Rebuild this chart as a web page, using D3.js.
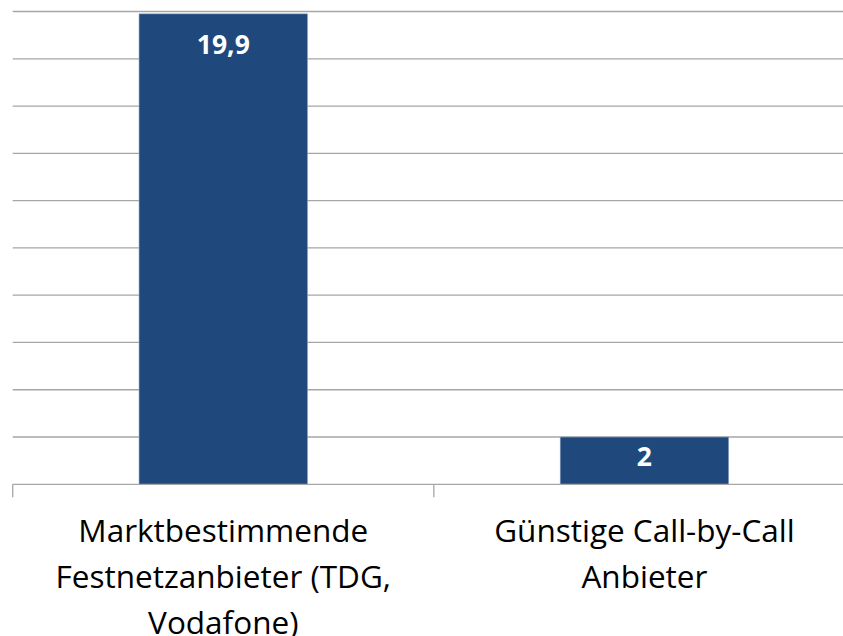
<!DOCTYPE html>
<html>
<head>
<meta charset="utf-8">
<script src="https://d3js.org/d3.v7.min.js"></script>
<style>
  body { margin: 0; background: #fff; }
  .cat { font-family: "Open Sans", sans-serif; font-size: 31.5px; fill: #000; }
  .val { font-family: "Open Sans", sans-serif; font-size: 26.5px; font-weight: bold; fill: #fff; }
</style>
</head>
<body>
<svg width="843" height="636"></svg>
<script>
// data
var categories = ["Marktbestimmende Festnetzanbieter (TDG, Vodafone)", "Günstige Call-by-Call Anbieter"];
var labelLines = [["Marktbestimmende", "Festnetzanbieter (TDG,", "Vodafone)"], ["Günstige Call-by-Call", "Anbieter"]];
var values = [19.9, 2];
var valueLabels = ["19,9", "2"];
var yTicks = [0, 2, 4, 6, 8, 10, 12, 14, 16, 18, 20];

var svg = d3.select("svg");
var plotLeft = 12.7, plotRight = 855, plotTop = 11.5, plotBottom = 484.3;

var x = d3.scaleBand().domain(categories).range([plotLeft, plotRight])
  .paddingInner(0.6).paddingOuter(0.3);
var y = d3.scaleLinear().domain([0, 20]).range([plotBottom, plotTop]);

// gridlines
svg.selectAll("line.grid")
  .data(yTicks.slice(1))
  .enter().append("line")
    .attr("class", "grid")
    .attr("x1", plotLeft).attr("x2", 843)
    .attr("y1", function(d) { return y(d); })
    .attr("y2", function(d) { return y(d); })
    .attr("stroke", "#a6a6a6").attr("stroke-width", 1.3);

// bars
svg.selectAll("rect.bar")
  .data(values)
  .enter().append("rect")
    .attr("class", "bar")
    .attr("x", function(d, i) { return x(categories[i]); })
    .attr("width", x.bandwidth())
    .attr("y", function(d) { return y(d); })
    .attr("height", function(d) { return y(0) - y(d); })
    .attr("fill", "#1f497d")
    .attr("stroke", "#8ea3bf").attr("stroke-width", 0.6);

// x axis baseline + ticks at category boundaries
svg.append("line")
  .attr("x1", plotLeft).attr("x2", 843)
  .attr("y1", plotBottom).attr("y2", plotBottom)
  .attr("stroke", "#a6a6a6").attr("stroke-width", 1.3);

var step = x.step();
var bounds = [plotLeft, plotLeft + step, plotLeft + 2 * step];
svg.selectAll("line.tick")
  .data(bounds)
  .enter().append("line")
    .attr("class", "tick")
    .attr("x1", function(d) { return d; }).attr("x2", function(d) { return d; })
    .attr("y1", plotBottom).attr("y2", plotBottom + 13)
    .attr("stroke", "#a6a6a6").attr("stroke-width", 1.3);

// value labels (inside end; short bars get them centred)
svg.selectAll("text.val")
  .data(values)
  .enter().append("text")
    .attr("class", "val")
    .attr("text-anchor", "middle")
    .attr("x", function(d, i) { return x(categories[i]) + x.bandwidth() / 2; })
    .attr("y", function(d) { return y(d) + Math.min(40, (y(0) - y(d)) / 2 + 5); })
    .text(function(d, i) { return valueLabels[i]; });

// category labels
svg.selectAll("text.cat")
  .data(categories)
  .enter().append("text")
    .attr("class", "cat")
    .attr("text-anchor", "middle")
    .attr("transform", function(d) { return "translate(" + (x(d) + x.bandwidth() / 2) + "," + 542 + ")"; })
    .each(function(d, i) {
      var t = d3.select(this);
      labelLines[i].forEach(function(line, j) {
        t.append("tspan").attr("x", 0).attr("dy", j === 0 ? 0 : 46).text(line);
      });
    });
</script>
</body>
</html>
